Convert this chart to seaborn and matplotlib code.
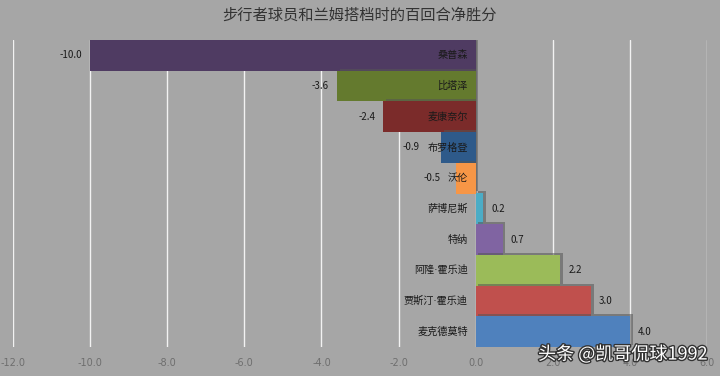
import matplotlib
matplotlib.use("Agg")
import matplotlib.pyplot as plt
import matplotlib.patheffects as pe
import seaborn as sns
import pandas as pd

players = ["桑普森", "比塔泽", "麦康奈尔", "布罗格登", "沃伦", "萨博尼斯", "特纳", "阿隆·霍乐迪", "贾斯汀·霍乐迪", "麦克德莫特"]
values = [-10.0, -3.6, -2.4, -0.9, -0.5, 0.2, 0.7, 2.2, 3.0, 4.0]
colors = ["#4f3b62", "#647a2e", "#7b2b2a", "#2e5a8a", "#f79646", "#4bacc6", "#8064a2", "#9bbb59", "#c0504d", "#4f81bd"]
xticks = [-12, -10, -8, -6, -4, -2, 0, 2, 4, 6]
title = "步行者球员和兰姆搭档时的百回合净胜分"
watermark = "头条 @凯哥侃球1992"

sns.set_style("white")
plt.rcParams["font.family"] = ["Noto Sans CJK SC", "DejaVu Sans"]

bg = "#a6a6a6"
fig = plt.figure(figsize=(7.2, 3.76), dpi=100, facecolor=bg)
ax = fig.add_axes([13/720, 1 - 347/376, (707-13)/720, (347-40)/376])
ax.set_facecolor(bg)

df = pd.DataFrame({"player": players, "value": values})
sns.barplot(data=df, x="value", y="player", hue="player", palette=colors,
            saturation=1, width=1.0, legend=False, ax=ax, zorder=3)

for p in ax.patches:
    p.set_linewidth(0)
    p.set_edgecolor("none")
    p.set_path_effects([pe.SimplePatchShadow(offset=(2, 1.5), shadow_rgbFace="#555555", alpha=0.55), pe.Normal()])

ax.set_xlim(-12, 6)
ax.set_ylim(len(players) - 0.5, -0.5)
ax.set_xticks(xticks)
ax.set_xticklabels([f"{t:.1f}" for t in xticks], color="#6e6e6e", fontsize=7, family="DejaVu Sans")
ax.tick_params(axis="x", length=0, pad=8)
ax.set_yticks([])
ax.set_xlabel("")
ax.set_ylabel("")
for s in ax.spines.values():
    s.set_visible(False)
ax.grid(axis="x", color="#f2f2f2", linewidth=1.0, zorder=0)
ax.set_axisbelow(True)
ax.axvline(0, color="#8c8c8c", linewidth=0.8, zorder=2)

name_family = ["DejaVu Sans", "Noto Sans CJK SC"]
lab_kw = dict(va="center", fontsize=7, color="#1a1a1a", zorder=5)
for i, (name, v) in enumerate(zip(players, values)):
    ax.text(-0.2, i, name, ha="right", va="center", fontsize=7.3, color="#1a1a1a",
            family=name_family, zorder=5)
    if v >= 0:
        ax.text(v + 0.2, i, f"{v:.1f}", ha="left", **lab_kw)
    elif v < -1.5:
        ax.text(v - 0.2, i, f"{v:.1f}", ha="right", **lab_kw)

# small negative values: value label sits left of the name
ax.text(-1.45, 3, f"{values[3]:.1f}", ha="right", **lab_kw)
ax.text(-0.9, 4, f"{values[4]:.1f}", ha="right", **lab_kw)

fig.text(0.5, 0.96, title, ha="center", va="center", fontsize=11, color="#333333")

fig.text(0.982, 0.058, watermark, ha="right", va="center", fontsize=13, color="white",
         path_effects=[pe.withStroke(linewidth=2, foreground="#333333")], zorder=10)

fig.savefig("out.png", dpi=100, facecolor=bg)
